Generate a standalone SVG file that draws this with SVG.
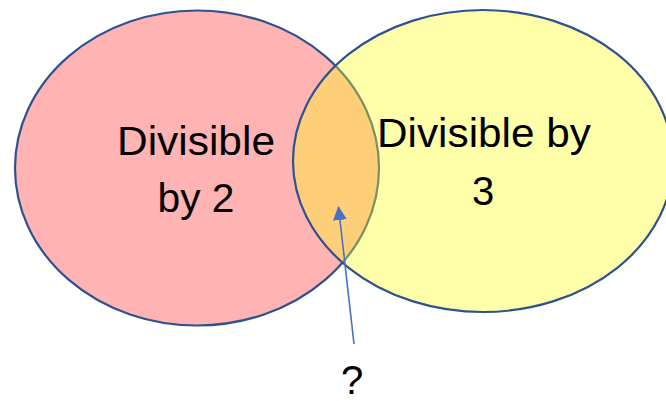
<svg xmlns="http://www.w3.org/2000/svg" width="666" height="401" viewBox="0 0 666 401">
<style>
.set{stroke:#2F528F;stroke-width:2.2}
.lbl{font-family:"Liberation Sans",Arial,sans-serif;font-size:40px;fill:#000;text-anchor:middle}
</style>
<defs>
<marker id="ah" markerWidth="14" markerHeight="14" refX="13" refY="7" orient="auto" markerUnits="userSpaceOnUse" viewBox="0 0 14 14">
<path d="M0,0 L14,7 L0,14 Z" fill="#4472C4"/>
</marker>
</defs>
<rect width="666" height="401" fill="#fff"/>
<g id="set2">
<ellipse cx="197" cy="168" rx="182" ry="157.5" fill="#FFB3B3" class="set"/>
</g>
<g id="set3">
<ellipse cx="483" cy="161" rx="190" ry="151" fill="rgb(255,255,20)" fill-opacity="0.36" stroke="none"/>
<ellipse cx="483" cy="161" rx="190" ry="151" fill="none" class="set"/>
</g>
<g id="labels">
<text class="lbl" x="196" y="155" textLength="158" lengthAdjust="spacingAndGlyphs">Divisible</text>
<text class="lbl" x="196" y="212" textLength="77" lengthAdjust="spacingAndGlyphs">by 2</text>
<text class="lbl" x="484" y="147" textLength="214" lengthAdjust="spacingAndGlyphs">Divisible by</text>
<text class="lbl" x="483" y="205">3</text>
</g>
<g id="connectors">
<line x1="354" y1="344" x2="338.5" y2="207" stroke="#4472C4" stroke-width="1.6" marker-end="url(#ah)"/>
</g>
<g id="question">
<text class="lbl" x="352" y="394">?</text>
</g>
</svg>
